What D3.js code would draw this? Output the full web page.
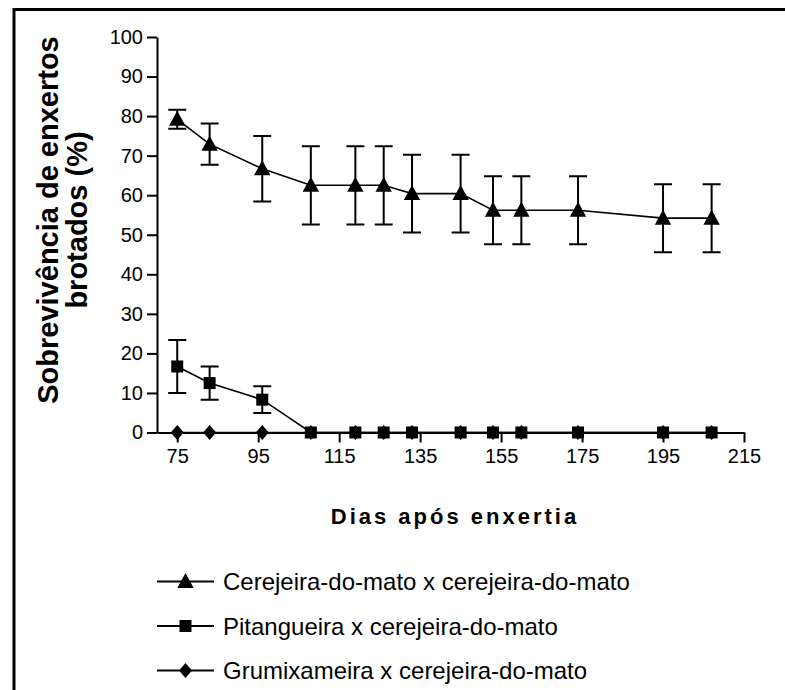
<!DOCTYPE html>
<html>
<head>
<meta charset="utf-8">
<script src="https://cdn.jsdelivr.net/npm/d3@7"></script>
<style>
  body { margin: 0; background: #fff; }
  svg { display: block; }
  text { font-family: "Liberation Sans", Arial, Helvetica, sans-serif; fill: #000; }
</style>
</head>
<body>
<svg id="chart" width="785" height="690"></svg>
<script>
// Days after grafting at which survival was assessed
const days = [75, 83, 96, 108, 119, 126, 133, 145, 153, 160, 174, 195, 207];

// Survival (%) of sprouted grafts, mean and error per assessment
const cerejeiraMean = [79.2, 72.9, 66.7, 62.5, 62.5, 62.5, 60.4, 60.4, 56.2, 56.2, 56.2, 54.2, 54.2];
const cerejeiraErr  = [2.4, 5.2, 8.3, 9.9, 9.9, 9.9, 9.8, 9.8, 8.6, 8.6, 8.6, 8.6, 8.6];
const pitangueiraMean = [16.7, 12.5, 8.3, 0, 0, 0, 0, 0, 0, 0, 0, 0, 0];
const pitangueiraErr  = [6.7, 4.2, 3.4, 0, 0, 0, 0, 0, 0, 0, 0, 0, 0];
const grumixameiraMean = [0, 0, 0, 0, 0, 0, 0, 0, 0, 0, 0, 0, 0];
const grumixameiraErr  = [0, 0, 0, 0, 0, 0, 0, 0, 0, 0, 0, 0, 0];

const seriesNames = [
  "Cerejeira-do-mato x cerejeira-do-mato",
  "Pitangueira x cerejeira-do-mato",
  "Grumixameira x cerejeira-do-mato"
];

const xTicks = [75, 95, 115, 135, 155, 175, 195, 215];
const yTicks = [0, 10, 20, 30, 40, 50, 60, 70, 80, 90, 100];

const yTitleLines = ["Sobrevivência de enxertos", "brotados (%)"];
const xTitle = "Dias após enxertia";

// ---- layout ----
const svg = d3.select("#chart");

const x = d3.scaleLinear().domain([70, 215]).range([157, 744]);
const y = d3.scaleLinear().domain([0, 100]).range([432.5, 37]);

// marker shapes
const markerPath = {
  triangle: "M0,-8.5L8.2,6.5L-8.2,6.5Z",
  square: "M-6,-6H6V6H-6Z",
  diamond: "M0,-7.5L6.5,0L0,7.5L-6.5,0Z"
};

const series = [
  { name: seriesNames[0], mean: cerejeiraMean, err: cerejeiraErr, shape: "triangle" },
  { name: seriesNames[1], mean: pitangueiraMean, err: pitangueiraErr, shape: "square" },
  { name: seriesNames[2], mean: grumixameiraMean, err: grumixameiraErr, shape: "diamond" }
];

// frame
svg.append("path")
  .attr("d", "M14,690V9.5H785")
  .attr("fill", "none").attr("stroke", "#000").attr("stroke-width", 3);

// y axis
const yAxis = svg.append("g")
  .attr("transform", `translate(${x.range()[0]},0)`)
  .call(d3.axisLeft(y).tickValues(yTicks).tickSize(10).tickPadding(4).tickSizeOuter(0));
yAxis.select(".domain").attr("stroke-width", 2);
yAxis.selectAll(".tick line").attr("stroke-width", 2);
yAxis.selectAll(".tick text").attr("font-size", 20).attr("fill", "#000");

// x axis
const xAxis = svg.append("g")
  .attr("transform", `translate(0,${y(0)})`)
  .call(d3.axisBottom(x).tickValues(xTicks).tickSize(10).tickPadding(6).tickSizeOuter(0));
xAxis.select(".domain").attr("stroke-width", 2);
xAxis.selectAll(".tick line").attr("stroke-width", 2);
xAxis.selectAll(".tick text").attr("font-size", 20).attr("fill", "#000");

// axis titles
const yTitle = svg.append("text")
  .attr("transform", `translate(0,220) rotate(-90)`)
  .attr("text-anchor", "middle")
  .attr("font-size", 29)
  .attr("font-weight", "bold");
yTitle.append("tspan").attr("x", 0).attr("y", 58).text(yTitleLines[0]);
yTitle.append("tspan").attr("x", 0).attr("y", 87).text(yTitleLines[1]);

svg.append("text")
  .attr("x", 455).attr("y", 524)
  .attr("text-anchor", "middle")
  .attr("font-size", 22)
  .attr("font-weight", "bold")
  .attr("letter-spacing", 3)
  .text(xTitle);

// data
const line = d3.line().x(d => x(d.day)).y(d => y(d.v));

series.forEach(s => {
  const pts = days.map((d, i) => ({ day: d, v: s.mean[i], e: s.err[i] }));
  const g = svg.append("g");

  // error bars
  pts.filter(p => p.e > 0).forEach(p => {
    const cx = x(p.day);
    g.append("path")
      .attr("d", `M${cx},${y(p.v + p.e)}V${y(p.v - p.e)}M${cx - 9},${y(p.v + p.e)}H${cx + 9}M${cx - 9},${y(p.v - p.e)}H${cx + 9}`)
      .attr("fill", "none").attr("stroke", "#000").attr("stroke-width", 2);
  });

  g.append("path")
    .datum(pts)
    .attr("d", line)
    .attr("fill", "none").attr("stroke", "#000").attr("stroke-width", 1.6);

  g.selectAll("path.marker")
    .data(pts)
    .join("path")
    .attr("class", "marker")
    .attr("transform", p => `translate(${x(p.day)},${y(p.v)})`)
    .attr("d", markerPath[s.shape])
    .attr("fill", "#000");
});

// legend
const legendRows = [581.5, 626, 670.5];
series.forEach((s, i) => {
  const g = svg.append("g").attr("transform", `translate(0,${legendRows[i]})`);
  g.append("line").attr("x1", 157).attr("x2", 214).attr("y1", 0).attr("y2", 0)
    .attr("stroke", "#000").attr("stroke-width", 2);
  g.append("path").attr("transform", "translate(185.5,0)").attr("d", markerPath[s.shape]).attr("fill", "#000");
  g.append("text").attr("x", 223).attr("y", 8.5).attr("font-size", 24).text(s.name);
});
</script>
</body>
</html>
